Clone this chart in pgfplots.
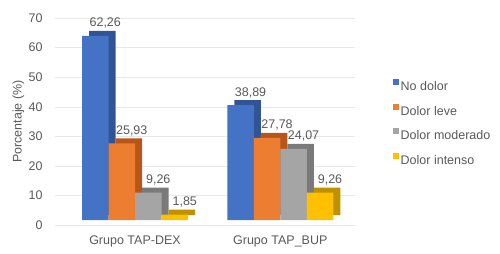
\documentclass[border=0pt]{standalone}
\usepackage{pgfplots}
\usepackage{pgfplotstable}
\pgfplotsset{compat=1.18}
\usepackage{fontspec}
\setmainfont{Liberation Sans}
\definecolor{cB}{HTML}{4472C4}\definecolor{cBd}{HTML}{2F5597}
\definecolor{cO}{HTML}{ED7D31}\definecolor{cOd}{HTML}{B8561A}
\definecolor{cG}{HTML}{A5A5A5}\definecolor{cGd}{HTML}{7A7A7A}
\definecolor{cY}{HTML}{FFC000}\definecolor{cYd}{HTML}{BF9000}
\definecolor{txt}{HTML}{595959}
\pgfplotstableread{
g nd dl dm di
0 62.26 25.93 9.26 1.85
1 38.89 27.78 24.07 9.26
}\data
\pgfplotsset{lbl/.style={
  draw=none, mark=none, forget plot, yshift=5pt,
  nodes near coords, point meta=explicit,
  nodes near coords style={anchor=south, xshift=10pt, yshift=3pt, text=txt,
    font=\fontsize{12.5}{15}\selectfont,
    /pgf/number format/.cd, fixed, fixed zerofill, precision=2, use comma}}}
\begin{document}
\fontsize{12.5}{15}\selectfont
\begin{tikzpicture}
\path[use as bounding box] (-55pt,-29pt) rectangle (445pt,225pt);
\begin{axis}[
  at={(0pt,0pt)}, anchor=south west,
  scale only axis, width=300pt, height=207pt,
  xmin=-0.5507, xmax=1.5143, ymin=0, ymax=70,
  ytick={0,10,...,70},
  xtick={0,1}, xticklabels={Grupo TAP-DEX, Grupo TAP\_BUP},
  axis line style={draw=none},
  major tick length=0pt,
  ymajorgrids, grid style={gray!18},
  tick label style={text=txt, font=\fontsize{12.5}{15}\selectfont},
  /pgf/number format/assume math mode=true,
  yticklabel style={xshift=-8pt},
  xticklabel style={yshift=-6pt},
  ylabel={Porcentaje (\%)}, ylabel style={text=txt, font=\fontsize{12.5}{15}\selectfont},
  ylabel shift=-4pt,
  legend style={at={(1.115,0.715)}, anchor=north west, draw=none, fill=none,
    font=\fontsize{12.5}{15}\selectfont, text=txt, row sep=9pt},
  legend cell align=left,
  legend image code/.code={\fill[#1] (0pt,-3pt) rectangle (6pt,3pt);},
  bar width=26.5pt,
]
% depth (side/top faces)
\addplot[ybar, bar shift=0pt, yshift=10pt, fill=cBd, draw=none, forget plot] table[x expr=\thisrow{g}-0.2254,y=nd]{\data};
\addplot[ybar, bar shift=0pt, yshift=10pt, fill=cOd, draw=none, forget plot] table[x expr=\thisrow{g}-0.0430,y=dl]{\data};
\addplot[ybar, bar shift=0pt, yshift=10pt, fill=cGd, draw=none, forget plot] table[x expr=\thisrow{g}+0.1394,y=dm]{\data};
\addplot[ybar, bar shift=0pt, yshift=10pt, fill=cYd, draw=none, forget plot] table[x expr=\thisrow{g}+0.3218,y=di]{\data};
% front faces
\addplot[ybar, bar shift=0pt, yshift=5pt, fill=cB, draw=none] table[x expr=\thisrow{g}-0.2736,y=nd]{\data};
\addplot[ybar, bar shift=0pt, yshift=5pt, fill=cO, draw=none] table[x expr=\thisrow{g}-0.0912,y=dl]{\data};
\addplot[ybar, bar shift=0pt, yshift=5pt, fill=cG, draw=none] table[x expr=\thisrow{g}+0.0912,y=dm]{\data};
\addplot[ybar, bar shift=0pt, yshift=5pt, fill=cY, draw=none] table[x expr=\thisrow{g}+0.2736,y=di]{\data};
\legend{No dolor, Dolor leve, Dolor moderado, Dolor intenso}
% value labels
\addplot[lbl] table[x expr=\thisrow{g}-0.2736,y=nd,meta=nd]{\data};
\addplot[lbl] table[x expr=\thisrow{g}-0.0912,y=dl,meta=dl]{\data};
\addplot[lbl] table[x expr=\thisrow{g}+0.0912,y=dm,meta=dm]{\data};
\addplot[lbl] table[x expr=\thisrow{g}+0.2736,y=di,meta=di]{\data};
\end{axis}
\end{tikzpicture}
\end{document}
